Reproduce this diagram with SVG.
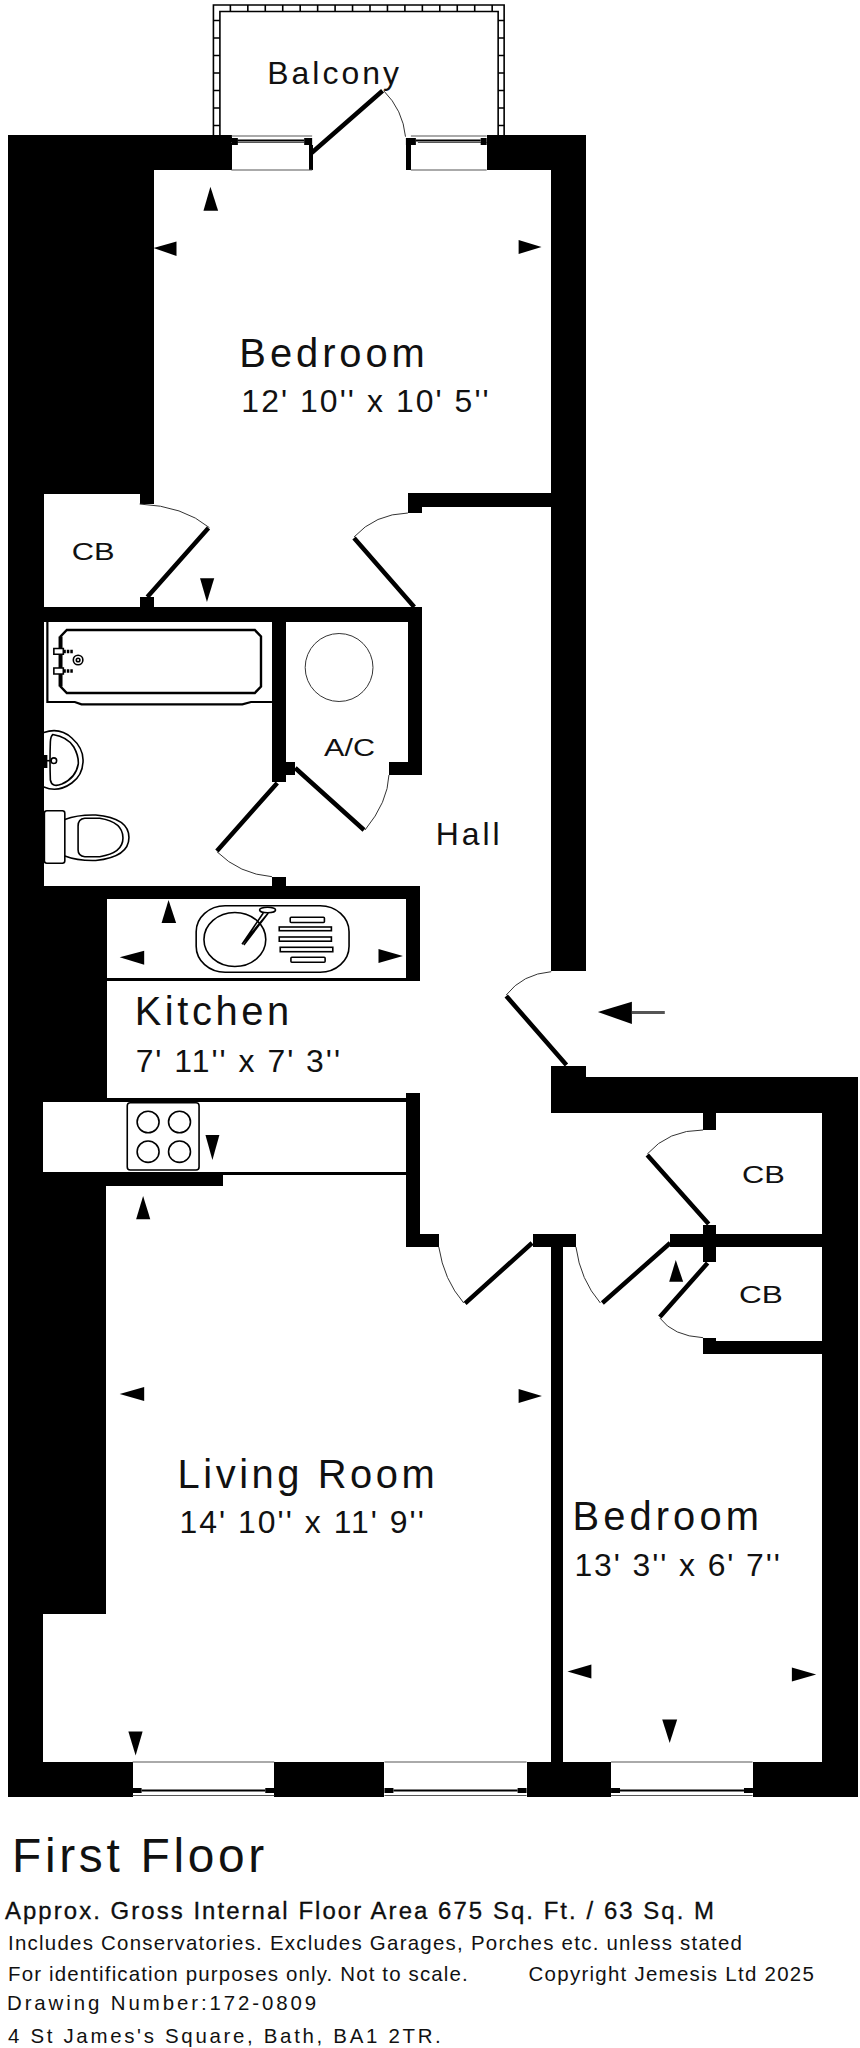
<svg xmlns="http://www.w3.org/2000/svg" width="860" height="2048" viewBox="0 0 860 2048">
<style>
.w{fill:#000}
.a{fill:#000}
.d{stroke:#000;stroke-width:4.5;fill:none;stroke-linecap:butt}
.r{stroke:#333;stroke-width:1;fill:none}
.t{stroke:#000;stroke-width:1.6;fill:none}
.m{stroke:#000;stroke-width:2.4;fill:none}
.g{fill:#fff;stroke:#000;stroke-width:1.6}
.gl{stroke:#555;stroke-width:1;fill:none}
text{font-family:"Liberation Sans",Arial,sans-serif;fill:#111}
.s48{font-size:48px}.s40{font-size:40px}.s32{font-size:32px}.s24{font-size:24px}.s20{font-size:20.5px}
</style>
<rect width="860" height="2048" fill="#fff"/>
<g id="plan" transform="matrix(0.9973 0 0 1 0 0)">
<g id="balcony">
<path class="t" d="M214 135V5H505.500V135M220.500 135V11.500H499.500V135"/>
<path class="t" d="M214 20.500h6.500M214 38h6.500M214 55.500h6.500M214 73h6.500M214 90.500h6.500M214 108h6.500M214 125.500h6.500M499.500 20.500h6M499.500 38h6M499.500 55.500h6M499.500 73h6M499.500 90.500h6M499.500 108h6M499.500 125.500h6M231 5v6.500M248.500 5v6.500M266 5v6.500M283.500 5v6.500M301 5v6.500M318.500 5v6.500M336 5v6.500M353.500 5v6.500M371 5v6.500M388.500 5v6.500M406 5v6.500M423.500 5v6.500M441 5v6.500M458.500 5v6.500M476 5v6.500M493.500 5v6.500"/>
<text class="s32" x="268" y="84" textLength="132" lengthAdjust="spacing">Balcony</text>
</g>
<g id="walls" shape-rendering="crispEdges">
<path class="w" d="M8 135H232.500V170H154V494H140V504H154V494H44V886H8Z"/>
<rect class="w" x="140" y="494" width="14" height="10"/>
<rect class="w" x="140" y="597" width="14" height="10"/>
<rect class="w" x="44" y="607" width="379" height="14.500"/>
<rect class="w" x="272.700" y="621.500" width="13.800" height="160.200"/>
<rect class="w" x="286.500" y="762" width="9.500" height="13"/>
<rect class="w" x="409" y="621.500" width="14" height="153.500"/>
<rect class="w" x="390" y="762" width="19" height="13"/>
<rect class="w" x="272.700" y="876.700" width="13.800" height="9.300"/>
<rect class="w" x="8" y="886" width="412.700" height="13"/>
<rect class="w" x="8" y="899" width="99" height="202.700"/>
<rect class="w" x="407.500" y="899" width="13.200" height="82"/>
<rect class="w" x="107" y="977.700" width="300.500" height="3.300"/>
<rect class="w" x="107" y="1098" width="300.500" height="3.700"/>
<rect class="w" x="407.500" y="1093" width="13.200" height="154"/>
<rect class="w" x="420.700" y="1234" width="19.300" height="13"/>
<rect class="w" x="8" y="1101" width="35.500" height="72"/>
<rect class="w" x="8" y="1172.300" width="98.700" height="442"/>
<rect class="w" x="106.700" y="1172.300" width="117.300" height="13.400"/>
<rect class="w" x="224" y="1172.300" width="183.500" height="2.700"/>
<rect class="w" x="8" y="1614" width="35.500" height="182.800"/>
<rect class="w" x="43" y="1761.600" width="90" height="35.200"/>
<rect class="w" x="275" y="1761.600" width="110.500" height="35.200"/>
<rect class="w" x="528" y="1761.600" width="84.700" height="35.200"/>
<rect class="w" x="754.600" y="1761.600" width="105.400" height="35.200"/>
<rect class="w" x="488" y="135" width="100" height="35"/>
<rect class="w" x="552" y="170" width="36" height="801"/>
<rect class="w" x="409" y="493" width="143" height="13.500"/>
<rect class="w" x="409" y="506" width="14" height="7"/>
<rect class="w" x="552" y="1066" width="35.500" height="47"/>
<rect class="w" x="587" y="1077" width="273" height="36"/>
<rect class="w" x="824" y="1113" width="36" height="649"/>
<rect class="w" x="705" y="1113" width="13" height="17"/>
<rect class="w" x="705" y="1225" width="13" height="37"/>
<rect class="w" x="672" y="1234" width="152" height="13"/>
<rect class="w" x="705" y="1337.700" width="13" height="16.300"/>
<rect class="w" x="718" y="1341" width="106" height="13"/>
<rect class="w" x="534.600" y="1234" width="42.900" height="13"/>
<rect class="w" x="552" y="1247" width="13" height="515"/>
<rect class="w" x="310" y="145" width="3.500" height="25"/>
<rect class="w" x="407" y="145" width="5" height="25"/>
</g>
<g id="windows">
<path class="gl" d="M232 136H313M232 142.500H305M232 170H313M412 136H488M419 142.500H488M412 170H488M133 1762H275M385.500 1762H528M612.700 1762H754.600M133 1795.500H275M385.500 1795.500H528M612.700 1795.500H754.600"/>
<path class="w" d="M232.500 138h6v7h-6zM305 138h8v7h-8zM407 138h10v7h-10zM482 138h6v7h-6zM133 1788h9v5h-9zM266 1788h9v5h-9zM385.500 1788h9v5h-9zM519 1788h9v5h-9zM612.700 1788h9v5h-9zM746 1788h9v5h-9z"/>
<path d="M238 140.500H305M417 140.500H482M142 1790.500H266M394.500 1790.500H519M621.700 1790.500H746" stroke="#000" stroke-width="1.800" fill="none"/>
</g>
<g id="doors">
<path class="d" d="M312.600 152.700L383.600 90.700M209 528L147.700 597M355 538L415.400 607M296 768L365 830M278 783L217.500 851M507.600 996L568 1065M466.400 1303.300L533.500 1243M604 1303L672 1243M649 1155L710.600 1224M709.500 1263L661.600 1317"/>
<path class="r" d="M384.700 90.700Q404 110 406.600 136.700M140 504Q184 506 210 527.700M409 513Q376 514 355 537M390 775Q389 802 366 830M217.500 851.700Q240 874 272.700 876.700M552.700 971.700Q524 974 507.600 995M440 1247Q445 1280 465 1303M577.500 1247Q582 1280 602 1303M705 1130Q670 1130 649 1154M661.600 1318Q675 1336 705 1337.700"/>
</g>
<g id="fixtures">
<path d="M47.500 621V702H75L81.700 704.300H243L251.700 702H272.700" stroke="#000" stroke-width="2.200" fill="none"/>
<path class="m" d="M67 630H255.500L261.700 636.500V686.500L255.500 693H67L60.700 686.500V636.500Z"/>
<path d="M60.700 636.500V686.500" stroke="#000" stroke-width="4" fill="none"/>
<path class="g" d="M54 648.500h9.500v5.800h-9.500zM54 668h9.500v6h-9.500z"/>
<path d="M63.500 651.500H73M63.500 671H73" stroke="#000" stroke-width="3.500" stroke-dasharray="2.500 1" fill="none"/>
<circle class="t" cx="78.300" cy="660" r="4.800"/><circle class="t" cx="78.300" cy="660" r="1.800"/>
<path class="t" d="M44 732.500Q60 727 72 738Q83.300 748 83.300 760Q83.300 775 72 783Q58 793 44 787"/>
<path class="t" d="M53 734.500Q68 737 74 747Q79 756 78.500 764Q76 778 62 784Q52 788 50.500 780Q49.800 760 50.500 742Q50.800 736 53 734.500Z"/>
<rect class="w" x="44" y="755" width="3.500" height="13"/>
<path class="t" d="M44 760.700h8"/><circle class="t" cx="54" cy="760.700" r="2.800"/>
<rect class="t" x="44.500" y="810.700" width="20.500" height="52.600" rx="2.500"/>
<path class="t" d="M65 819.500Q78 814.500 96 815Q129.300 818 129.300 837.500Q129.300 857 96 860.500Q78 861 65 856"/>
<path class="t" d="M85 818.300H100Q123.300 822 123.300 838Q123.300 853 100 856.700H85Q78.300 856 78.300 850V826Q78.300 819 85 818.300Z"/>
<ellipse class="r" cx="340" cy="667.500" rx="34" ry="34"/>
<rect class="t" x="196.700" y="905.700" width="153.300" height="66.600" rx="29" ry="26"/>
<ellipse class="t" cx="235.500" cy="939.500" rx="31" ry="27"/>
<path class="t" d="M242.700 944.300L264 913M244.500 945L269 913L242.700 944.300"/>
<ellipse class="g" cx="268.300" cy="910" rx="8" ry="2.800"/>
<rect class="g" x="291" y="917.300" width="34.300" height="5.200" rx="1"/>
<rect class="g" x="280" y="927" width="52.300" height="3.700"/>
<rect class="g" x="280" y="937" width="52.300" height="4.200"/>
<rect class="g" x="281" y="947.300" width="52.700" height="4.400"/>
<rect class="g" x="291.700" y="957.300" width="34.300" height="5" rx="1"/>
<rect class="g" x="127.600" y="1102.700" width="72" height="67.300" rx="3"/>
<ellipse class="t" cx="148.500" cy="1122" rx="11" ry="10.700"/>
<ellipse class="t" cx="180" cy="1122" rx="11" ry="10.700"/>
<ellipse class="t" cx="148.500" cy="1151.700" rx="11" ry="10.700"/>
<ellipse class="t" cx="180" cy="1151.700" rx="11" ry="10.700"/>
</g>
<g id="arrows">
<polygon class="a" points="211,186.700 204,210.700 218.700,210.700"/>
<polygon class="a" points="154,248 177,241.500 177,256"/>
<polygon class="a" points="543,247 520,240 520,254"/>
<polygon class="a" points="207.500,602 200.600,578.300 214.800,578.300"/>
<polygon class="a" points="169,900 162,923 176.600,923"/>
<polygon class="a" points="120,957.300 144.600,950.700 144.600,964.700"/>
<polygon class="a" points="404,956 379.500,949 379.500,963"/>
<polygon class="a" points="213,1160 206,1135 220,1135"/>
<polygon class="a" points="143.500,1196 136.500,1219.300 150.700,1219.300"/>
<polygon class="a" points="120,1394 144.600,1387 144.600,1401"/>
<polygon class="a" points="543.400,1396 520,1389 520,1403"/>
<polygon class="a" points="677.600,1260 671,1281.700 685,1281.700"/>
<polygon class="a" points="569,1671.500 593,1664.500 593,1678.500"/>
<polygon class="a" points="818.400,1674.400 794,1667.400 794,1681.400"/>
<polygon class="a" points="671.500,1743 664,1719.500 679,1719.500"/>
<polygon class="a" points="136,1755.400 128.700,1731.500 143,1731.500"/>
<polygon class="a" points="599.500,1012 633.600,1001.700 633.600,1024"/>
<path d="M633.600 1012.500H666.600" stroke="#555" stroke-width="3" fill="none"/>
</g>
<g id="labels">
<text class="s40" x="240" y="366.700" textLength="186" lengthAdjust="spacing">Bedroom</text>
<text class="s32" x="242" y="412" textLength="248" lengthAdjust="spacing">12' 10'' x 10' 5''</text>
<text class="s24" x="72" y="560" textLength="43" lengthAdjust="spacingAndGlyphs">CB</text>
<text class="s24" x="325" y="756" textLength="51" lengthAdjust="spacingAndGlyphs">A/C</text>
<text class="s32" x="437" y="845" textLength="64" lengthAdjust="spacing">Hall</text>
<text class="s40" x="135" y="1025" textLength="155" lengthAdjust="spacing">Kitchen</text>
<text class="s32" x="136" y="1071.700" textLength="205" lengthAdjust="spacing">7' 11'' x 7' 3''</text>
<text class="s24" x="744" y="1183" textLength="43" lengthAdjust="spacingAndGlyphs">CB</text>
<text class="s24" x="741" y="1302.700" textLength="44" lengthAdjust="spacingAndGlyphs">CB</text>
<text class="s40" x="178" y="1487.600" textLength="258" lengthAdjust="spacing">Living Room</text>
<text class="s32" x="180" y="1533.500" textLength="245" lengthAdjust="spacing">14' 10'' x 11' 9''</text>
<text class="s40" x="574" y="1530" textLength="187" lengthAdjust="spacing">Bedroom</text>
<text class="s32" x="576" y="1575.600" textLength="206" lengthAdjust="spacing">13' 3'' x 6' 7''</text>
<text class="s48" x="12" y="1872" textLength="253" lengthAdjust="spacing">First Floor</text>
<text class="s24" x="5" y="1918.700" textLength="711" lengthAdjust="spacing" stroke="#000" stroke-width="0.300">Approx. Gross Internal Floor Area 675 Sq. Ft. / 63 Sq. M</text>
<text class="s20" x="8" y="1949.700" textLength="736" lengthAdjust="spacing">Includes Conservatories. Excludes Garages, Porches etc. unless stated</text>
<text class="s20" x="8" y="1980.700" textLength="461" lengthAdjust="spacing">For identification purposes only. Not to scale.</text>
<text class="s20" x="530" y="1980.700" textLength="286" lengthAdjust="spacing">Copyright Jemesis Ltd 2025</text>
<text class="s20" x="7" y="2010" textLength="310" lengthAdjust="spacing">Drawing Number:172-0809</text>
<text class="s20" x="8" y="2042.700" textLength="434" lengthAdjust="spacing">4 St James's Square, Bath, BA1 2TR.</text>
</g>
</g>
</svg>
